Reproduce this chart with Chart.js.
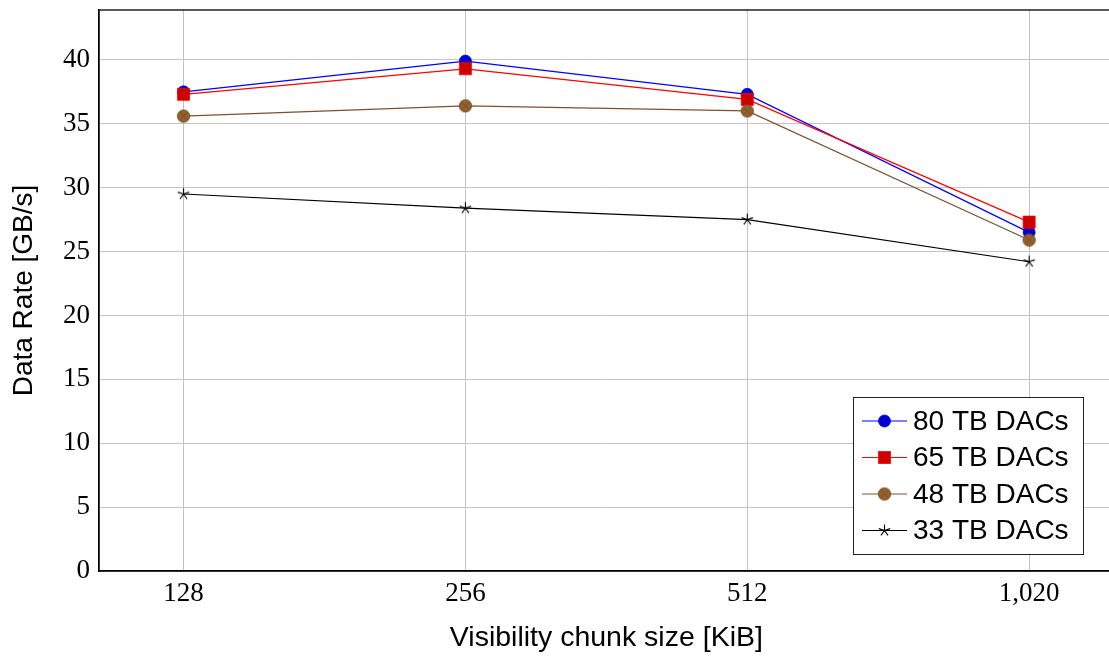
<!DOCTYPE html>
<html>
<head>
<meta charset="utf-8">
<script src="https://cdn.jsdelivr.net/npm/chart.js@4/dist/chart.umd.min.js"></script>
<style>
    html, body { margin: 0; padding: 0; background: #fff; overflow: hidden; }
    #rate-chart { display: block; }
</style>
</head>
<body>
<canvas id="rate-chart" width="1123" height="657"></canvas>
<script>
// chunk sizes on the x axis (KiB)
const chunkSizes = ["128", "256", "512", "1,020"];
const yTicks = [0, 5, 10, 15, 20, 25, 30, 35, 40];

// data rate in GB/s per DAC size
const dac80 = [37.5, 39.9, 37.3, 26.5];
const dac65 = [37.3, 39.3, 36.9, 27.3];
const dac48 = [35.6, 36.4, 36.0, 25.9];
const dac33 = [29.5, 28.4, 27.5, 24.2];

const seriesNames = ["80 TB DACs", "65 TB DACs", "48 TB DACs", "33 TB DACs"];

// crossed circle marker for the brown series
function crossedCircle() {
    const c = document.createElement("canvas");
    c.width = 15;
    c.height = 15;
    const g = c.getContext("2d");
    g.beginPath();
    g.arc(7.5, 7.5, 6.2, 0, Math.PI * 2);
    g.fillStyle = "#94602f";
    g.fill();
    g.lineWidth = 0.8;
    g.strokeStyle = "#6e4620";
    g.stroke();
    g.beginPath();
    g.moveTo(3.5, 3.5); g.lineTo(11.5, 11.5);
    g.moveTo(11.5, 3.5); g.lineTo(3.5, 11.5);
    g.lineWidth = 0.7;
    g.strokeStyle = "#6e4620";
    g.stroke();
    return c;
}

// five-armed star like the pgfplots one
function fiveStar() {
    const c = document.createElement("canvas");
    c.width = 15;
    c.height = 15;
    const g = c.getContext("2d");
    g.beginPath();
    for (let k = 0; k < 5; k++) {
        const ang = -Math.PI / 2 + k * 2 * Math.PI / 5;
        g.moveTo(7.5, 7.5);
        g.lineTo(7.5 + 6 * Math.cos(ang), 7.5 + 6 * Math.sin(ang));
    }
    g.lineWidth = 1.1;
    g.strokeStyle = "#000";
    g.stroke();
    return c;
}
const brownMark = crossedCircle();
const starMark = fiveStar();

const toPoints = arr => arr.map((v, i) => ({ x: i, y: v }));

const datasets = [
    {
        label: seriesNames[0], data: toPoints(dac80), order: 4,
        borderColor: "#0000ff", borderWidth: 1.2,
        pointStyle: "circle", pointRadius: 6,
        pointBackgroundColor: "#0000cc", pointBorderColor: "#0000ff", pointBorderWidth: 0.8
    },
    {
        label: seriesNames[1], data: toPoints(dac65), order: 3,
        borderColor: "#ff0000", borderWidth: 1.2,
        pointStyle: "rect", pointRadius: 8.5,
        pointBackgroundColor: "#cc0000", pointBorderColor: "#ff0000", pointBorderWidth: 0.8
    },
    {
        label: seriesNames[2], data: toPoints(dac48), order: 2,
        borderColor: "#7a5230", borderWidth: 1.2,
        pointStyle: brownMark, pointRadius: 7
    },
    {
        label: seriesNames[3], data: toPoints(dac33), order: 1,
        borderColor: "#000000", borderWidth: 1.2,
        pointStyle: starMark, pointRadius: 7
    }
];

// frame around the plot and the legend box inside it
const framePlugin = {
    id: "frame",
    afterDraw(chart) {
        const ctx = chart.ctx;
        const a = chart.chartArea;
        ctx.save();
        ctx.strokeStyle = "#000";
        ctx.lineWidth = 1.3;
        ctx.strokeRect(a.left, a.top, a.right - a.left, a.bottom - a.top);

        // legend
        const bx = 853, by = 397, bw = 230, bh = 157;
        ctx.fillStyle = "#fff";
        ctx.fillRect(bx, by, bw, bh);
        ctx.lineWidth = 1;
        ctx.strokeStyle = "#222";
        ctx.strokeRect(bx + 0.5, by + 0.5, bw, bh);
        ctx.font = "28px 'Liberation Sans'";
        ctx.textBaseline = "middle";
        chart.data.datasets.forEach((ds, i) => {
            const y = 421 + i * 36.5;
            ctx.beginPath();
            ctx.moveTo(862, y);
            ctx.lineTo(907, y);
            ctx.strokeStyle = ds.borderColor;
            ctx.lineWidth = 1.2;
            ctx.stroke();
            if (ds.pointBackgroundColor) {
                ctx.fillStyle = ds.pointBackgroundColor;
                ctx.strokeStyle = ds.pointBorderColor;
                ctx.lineWidth = ds.pointBorderWidth;
            }
            Chart.helpers.drawPoint(ctx, {
                pointStyle: ds.pointStyle,
                radius: ds.pointRadius,
                borderWidth: ds.pointBorderWidth || 1,
                rotation: 0
            }, 884.5, y);
            ctx.fillStyle = "#000";
            ctx.fillText(ds.label, 913, y + 1);
        });
        ctx.restore();
    }
};

new Chart(document.getElementById("rate-chart").getContext("2d"), {
    type: "line",
    data: { datasets: datasets },
    plugins: [framePlugin],
    options: {
        responsive: false,
        animation: false,
        layout: { padding: { top: 10, right: 0, left: 0, bottom: 0 } },
        plugins: {
            legend: { display: false },
            tooltip: { enabled: false }
        },
        elements: { line: { tension: 0 } },
        scales: {
            x: {
                type: "linear",
                min: -0.3,
                max: 3.3,
                afterBuildTicks: s => { s.ticks = chunkSizes.map((_, i) => ({ value: i })); },
                afterFit: s => { s.height = 86; s.paddingLeft = 0; s.paddingRight = 0; },
                ticks: {
                    callback: v => chunkSizes[v],
                    font: { family: "'Liberation Serif'", size: 27 },
                    color: "#000",
                    padding: 7,
                    maxRotation: 0
                },
                grid: { color: "#c4c4c4", lineWidth: 1, drawTicks: false },
                border: { color: "#000", width: 1.3 },
                title: {
                    display: true,
                    text: "Visibility chunk size [KiB]",
                    font: { family: "'Liberation Sans'", size: 28.5 },
                    color: "#000",
                    padding: { top: 0, bottom: 2 }
                }
            },
            y: {
                min: 0,
                max: 43.9,
                afterBuildTicks: s => { s.ticks = yTicks.map(v => ({ value: v })); },
                afterFit: s => { s.width = 99; s.paddingTop = 0; s.paddingBottom = 0; },
                ticks: {
                    font: { family: "'Liberation Serif'", size: 27 },
                    color: "#000",
                    padding: 9
                },
                grid: { color: "#c4c4c4", lineWidth: 1, drawTicks: false },
                border: { color: "#000", width: 1.3 },
                title: {
                    display: true,
                    text: "Data Rate [GB/s]",
                    font: { family: "'Liberation Sans'", size: 28 },
                    color: "#000",
                    padding: { top: 7, bottom: 0 }
                }
            }
        }
    }
});
</script>
</body>
</html>
